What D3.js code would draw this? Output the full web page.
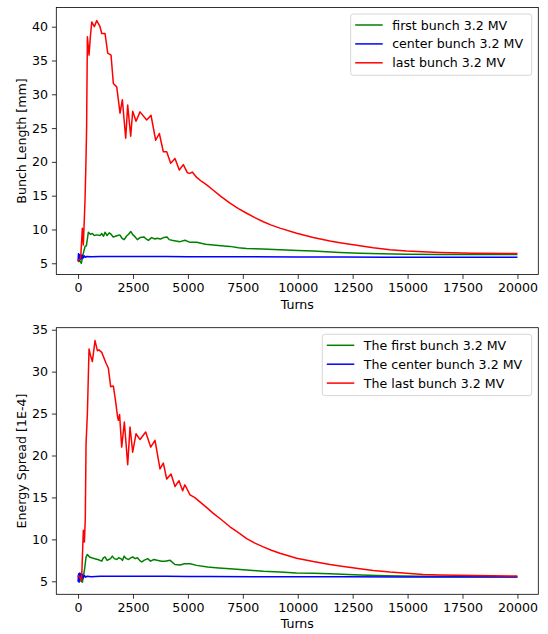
<!DOCTYPE html>
<html>
<head>
<meta charset="utf-8">
<script src="https://cdnjs.cloudflare.com/ajax/libs/d3/7.8.5/d3.min.js"></script>
<style>
	body { margin: 0; background: #fff; }
	text { font-family: "DejaVu Sans", sans-serif; fill: #000; }
</style>
</head>
<body>
<div class="chart"></div>
<script>
// data: [turn, value]
var lengthFirst = [[0,5.2],[80,5.4],[150,5.0],[220,6.2],[318,7.5],[380,7.6],[470,9.6],[560,9.3],[650,9.4],[740,9.1],[850,9.2],[1000,9.1],[1080,9.4],[1160,9.0],[1230,9.6],[1320,9.1],[1420,9.5],[1500,9.3],[1600,8.9],[1700,9.0],[1800,9.1],[1900,9.2],[2000,8.7],[2100,8.5],[2200,9.0],[2300,9.3],[2400,9.7],[2500,9.2],[2600,8.9],[2700,8.5],[2820,8.8],[3000,8.9],[3100,8.6],[3200,8.4],[3350,8.8],[3500,8.6],[3600,8.7],[3750,8.6],[3900,8.8],[4050,8.9],[4150,8.5],[4270,8.4],[4450,8.3],[4640,8.2],[4870,8.4],[5100,8.1],[5400,8.1],[5800,7.8],[6156,7.7],[6500,7.6],[6915,7.5],[7300,7.3],[7675,7.2],[8400,7.1],[9190,7.0],[10000,6.9],[10706,6.8],[11920,6.6],[12830,6.5],[13800,6.4],[15000,6.35],[16500,6.3],[18000,6.3],[20000,6.3]];
var lengthCenter = [[0,5.3],[20,6.4],[50,5.4],[80,6.3],[110,5.6],[140,6.2],[170,5.7],[200,6.2],[240,5.8],[280,6.1],[330,5.9],[400,6.0],[600,5.95],[1000,6.0],[2000,6.0],[3000,6.0],[4000,6.0],[5000,5.98],[6000,5.97],[8000,5.95],[10000,5.93],[12000,5.92],[14000,5.9],[16000,5.9],[18000,5.9],[20000,5.9]];
var lengthLast = [[0,5.3],[120,5.8],[196,10.2],[241,7.7],[318,14.4],[355,19.3],[390,25.0],[425,38.5],[500,35.8],[560,38.5],[623,40.7],[742,40.0],[850,40.9],[1000,40.0],[1078,39.0],[1228,39.0],[1351,36.1],[1501,35.8],[1607,31.6],[1760,31.1],[1911,27.2],[2017,29.2],[2169,23.5],[2260,28.4],[2396,23.8],[2487,27.5],[2639,26.0],[2821,27.4],[3124,26.2],[3321,26.9],[3533,23.2],[3700,24.2],[3882,21.5],[4035,21.5],[4217,19.8],[4413,20.5],[4610,18.8],[4791,19.6],[4973,18.4],[5096,18.3],[5200,18.5],[5400,17.7],[5628,17.1],[5855,16.6],[6156,15.8],[6500,14.9],[6915,13.9],[7300,13.1],[7675,12.4],[8050,11.75],[8431,11.15],[8800,10.65],[9190,10.2],[9950,9.45],[10706,8.8],[11466,8.3],[11920,8.05],[12830,7.6],[13436,7.3],[14200,7.0],[14953,6.8],[15700,6.7],[16470,6.6],[17986,6.5],[20000,6.45]];

var spreadFirst = [[0,5.7],[80,5.1],[200,4.9],[300,6.5],[364,7.9],[425,8.2],[520,7.9],[620,7.8],[760,7.7],[900,7.6],[1080,7.4],[1150,7.8],[1230,7.9],[1320,7.5],[1400,7.6],[1480,7.7],[1560,8.0],[1650,7.7],[1760,7.6],[1850,7.8],[1950,7.7],[2020,7.5],[2100,8.0],[2200,7.7],[2300,7.6],[2400,7.8],[2490,7.9],[2600,7.7],[2700,7.8],[2800,7.5],[2900,7.3],[3000,7.5],[3170,7.7],[3300,7.4],[3450,7.6],[3600,7.5],[3800,7.4],[3960,7.4],[4190,7.5],[4410,7.0],[4640,6.95],[4850,7.1],[5100,7.1],[5400,6.9],[5900,6.7],[6400,6.6],[6915,6.5],[7675,6.35],[8431,6.2],[9190,6.1],[9950,6.0],[10706,5.95],[11466,5.9],[12830,5.75],[14000,5.65],[15500,5.6],[17000,5.57],[20000,5.55]];
var spreadCenter = [[0,4.95],[25,5.9],[50,4.9],[80,6.0],[110,5.3],[140,5.9],[170,5.2],[200,5.8],[240,5.4],[290,5.7],[340,5.5],[420,5.6],[600,5.55],[1000,5.6],[2000,5.6],[3000,5.6],[4000,5.6],[5000,5.58],[6000,5.57],[8000,5.55],[10000,5.55],[12000,5.55],[15000,5.52],[18000,5.5],[20000,5.5]];
var spreadLast = [[0,5.7],[100,5.4],[160,5.1],[241,11.1],[290,9.7],[330,12.5],[364,21.4],[425,25.0],[500,32.7],[560,32.0],[650,31.2],[773,33.7],[880,32.5],[950,32.6],[1078,32.3],[1275,31.0],[1380,30.4],[1486,28.2],[1607,28.3],[1713,26.4],[1800,24.6],[1835,24.2],[1890,24.9],[1987,21.0],[2108,24.0],[2260,18.9],[2366,23.4],[2487,20.4],[2639,22.6],[2821,21.9],[3079,22.8],[3306,21.0],[3503,21.8],[3730,18.4],[3882,19.1],[4035,17.2],[4232,17.8],[4413,16.3],[4595,17.0],[4762,15.8],[4860,16.5],[4944,16.1],[5096,15.3],[5300,15.0],[5628,14.3],[5900,13.7],[6156,13.1],[6500,12.4],[6915,11.5],[7300,10.8],[7675,10.1],[8050,9.55],[8431,9.1],[8800,8.7],[9190,8.35],[9950,7.75],[10706,7.35],[11466,7.0],[12000,6.8],[12830,6.5],[13436,6.3],[14200,6.1],[14953,5.95],[15700,5.82],[16470,5.75],[17986,5.68],[20000,5.62]];

var xTicks = [0, 2500, 5000, 7500, 10000, 12500, 15000, 17500, 20000];
var lengthTicks = [5, 10, 15, 20, 25, 30, 35, 40];
var spreadTicks = [5, 10, 15, 20, 25, 30, 35];

var lengthNames = ["first bunch 3.2 MV", "center bunch 3.2 MV", "last bunch 3.2 MV"];
var spreadNames = ["The first bunch 3.2 MV", "The center bunch 3.2 MV", "The last bunch 3.2 MV"];
var colors = ["#008000", "#0000ff", "#ff0000"];

var width = 548,
	height = 634,
	fontSize = "12.6px";

var svg = d3.select(".chart").append("svg")
	.attr("width", width)
	.attr("height", height);

svg.append("rect").attr("width", width).attr("height", height).attr("fill", "#fff");

function drawPanel(p) {
	var x = d3.scaleLinear().domain([-990, 20950]).range([p.left, p.right]);
	var y = d3.scaleLinear().domain(p.yDomain).range([p.bottom, p.top]);

	var g = svg.append("g");

	// lines
	var line = d3.line()
		.x(function(d) { return x(d[0]); })
		.y(function(d) { return y(d[1]); });

	p.series.forEach(function(s, i) {
		g.append("path")
			.datum(s)
			.attr("fill", "none")
			.attr("stroke", colors[i])
			.attr("stroke-width", 1.5)
			.attr("stroke-linejoin", "round")
			.attr("d", line);
	});

	// axes
	var xAxis = g.append("g")
		.attr("transform", "translate(0," + p.bottom + ")")
		.call(d3.axisBottom(x).tickValues(xTicks).tickSize(4.4).tickPadding(4).tickFormat(d3.format("d")));
	var yAxis = g.append("g")
		.attr("transform", "translate(" + p.left + ",0)")
		.call(d3.axisLeft(y).tickValues(p.yTicks).tickSize(4.4).tickPadding(4).tickFormat(d3.format("d")));

	[xAxis, yAxis].forEach(function(a) {
		a.select(".domain").remove();
		a.selectAll("line").attr("stroke", "#000").attr("stroke-width", 0.8);
		a.selectAll("text").attr("font-size", fontSize).attr("font-family", "DejaVu Sans").attr("fill", "#000");
	});

	// frame
	g.append("rect")
		.attr("x", p.left).attr("y", p.top)
		.attr("width", p.right - p.left).attr("height", p.bottom - p.top)
		.attr("fill", "none").attr("stroke", "#000").attr("stroke-width", 0.8);

	// labels
	g.append("text")
		.attr("x", (p.left + p.right) / 2)
		.attr("y", p.bottom + 34)
		.attr("text-anchor", "middle")
		.attr("font-size", fontSize)
		.text("Turns");

	g.append("text")
		.attr("transform", "translate(26," + (p.top + p.bottom) / 2 + ") rotate(-90)")
		.attr("text-anchor", "middle")
		.attr("font-size", fontSize)
		.text(p.yLabel);

	// legend
	var lg = g.append("g").attr("transform", "translate(" + p.legX + "," + p.legY + ")");
	lg.append("rect")
		.attr("width", p.legW).attr("height", 61.3)
		.attr("rx", 2.5)
		.attr("fill", "#fff").attr("fill-opacity", 0.8)
		.attr("stroke", "#cccccc").attr("stroke-width", 0.8);

	lg.selectAll("g.item")
		.data(p.names).enter()
		.append("g")
		.attr("class", "item")
		.attr("transform", function(d, i) { return "translate(0," + (11 + 18.9 * i) + ")"; })
		.each(function(d, i) {
			var it = d3.select(this);
			it.append("line")
				.attr("x1", 4.5).attr("x2", 32)
				.attr("stroke", colors[i]).attr("stroke-width", 1.5);
			it.append("text")
				.attr("x", 41.5).attr("y", 4.5)
				.attr("font-size", fontSize)
				.text(d);
		});
}

drawPanel({
	left: 56.3, right: 538.3, top: 7.5, bottom: 274.5,
	yDomain: [3.34, 42.84], yTicks: lengthTicks,
	series: [lengthFirst, lengthCenter, lengthLast],
	names: lengthNames, yLabel: "Bunch Length [mm]",
	legX: 350.7, legY: 14, legW: 181
});

drawPanel({
	left: 56.3, right: 538.3, top: 327.7, bottom: 594.3,
	yDomain: [3.45, 35.24], yTicks: spreadTicks,
	series: [spreadFirst, spreadCenter, spreadLast],
	names: spreadNames, yLabel: "Energy Spread [1E-4]",
	legX: 322.3, legY: 334.3, legW: 209.4
});
</script>
</body>
</html>
